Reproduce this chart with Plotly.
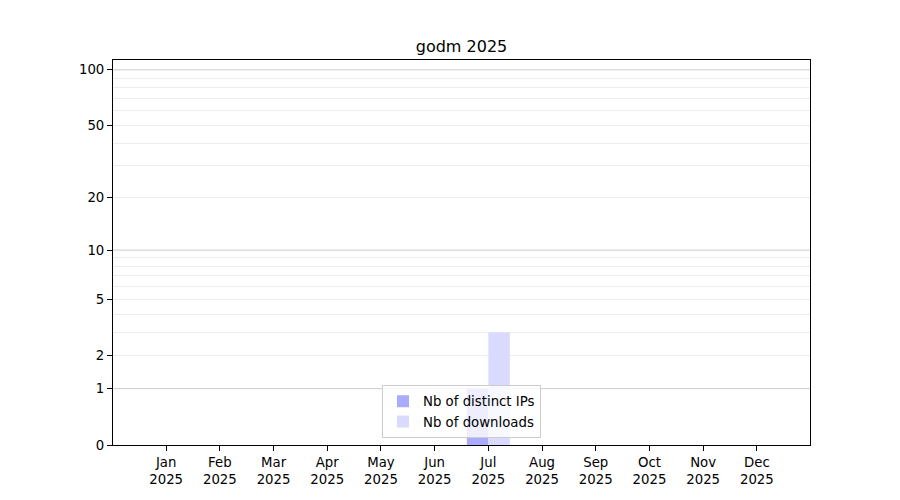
import numpy as np
import plotly.graph_objects as go

months = ["Jan", "Feb", "Mar", "Apr", "May", "Jun", "Jul", "Aug", "Sep", "Oct", "Nov", "Dec"]
year = "2025"
distinct_ips = [0, 0, 0, 0, 0, 0, 1, 0, 0, 0, 0, 0]
downloads = [0, 0, 0, 0, 0, 0, 3, 0, 0, 0, 0, 0]
y_tick_values = [0, 1, 2, 5, 10, 20, 50, 100]
y_major_grid = [1, 10, 100]
y_minor_grid = [2, 3, 4, 5, 6, 7, 8, 9, 20, 30, 40, 50, 60, 70, 80, 90]
y_max = 113


def tr(v):
    return np.log10(1 + np.asarray(v, dtype=float))


x = np.arange(len(months))
tick_text = [f"{m}<br>{year}" for m in months]

fig = go.Figure()
fig.add_trace(go.Bar(
    x=x, y=tr(distinct_ips), width=0.4, offset=-0.4,
    marker=dict(color="#aaaaff", line=dict(width=0)),
    name="Nb of distinct IPs",
    customdata=distinct_ips, hovertemplate="%{customdata}<extra></extra>",
))
fig.add_trace(go.Bar(
    x=x, y=tr(downloads), width=0.4, offset=0.0,
    marker=dict(color="#dadafe", line=dict(width=0)),
    name="Nb of downloads",
    customdata=downloads, hovertemplate="%{customdata}<extra></extra>",
))

shapes = []
for v in y_major_grid:
    yy = float(tr(v))
    shapes.append(dict(type="line", xref="paper", yref="y", x0=0, x1=1, y0=yy, y1=yy,
                       line=dict(color="#cccccc", width=1), layer="below"))

fig.update_layout(
    width=900, height=500,
    paper_bgcolor="white", plot_bgcolor="white",
    margin=dict(l=105, r=98, t=52, b=63),
    font=dict(family="DejaVu Sans", size=13.3, color="black"),
    title=dict(text="godm 2025", x=453.5 / 900, xanchor="center",
               y=1 - 38 / 500, yanchor="middle", font=dict(size=16)),
    barmode="overlay",
    showlegend=True,
    legend=dict(x=0.5, xanchor="center", y=0.018, yanchor="bottom",
                bgcolor="rgba(255,255,255,0.8)", bordercolor="#cccccc", borderwidth=1,
                font=dict(size=13.3), tracegroupgap=2),
    shapes=shapes,
    xaxis=dict(
        range=[-0.99, len(months) - 1 + 0.99],
        tickmode="array", tickvals=x, ticktext=tick_text,
        ticks="outside", ticklen=5, tickcolor="black",
        showline=True, linecolor="black", linewidth=1, mirror=True,
        showgrid=False, zeroline=False,
    ),
    yaxis=dict(
        range=[0, float(tr(y_max))],
        tickmode="array", tickvals=tr(y_tick_values), ticktext=[str(v) for v in y_tick_values],
        ticks="outside", ticklen=5, tickcolor="black",
        showline=True, linecolor="black", linewidth=1, mirror=True,
        showgrid=False, zeroline=False,
        minor=dict(tickmode="array", tickvals=tr(y_minor_grid), showgrid=True,
                   gridcolor="#ededed", gridwidth=1, ticks=""),
    ),
)

fig.write_html("out.html")
